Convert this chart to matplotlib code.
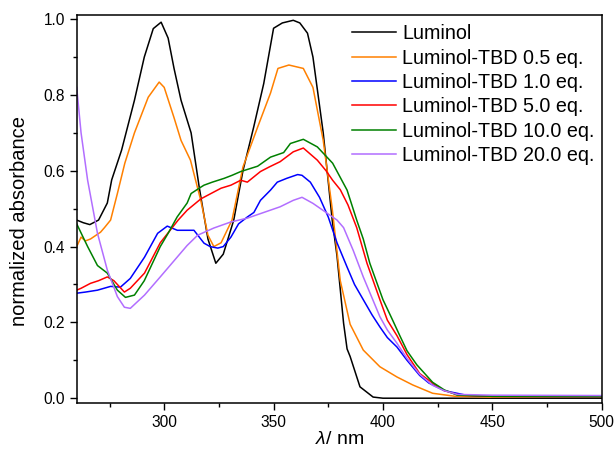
import numpy as np
import matplotlib
matplotlib.use('Agg')
import matplotlib.pyplot as plt
from matplotlib.ticker import MultipleLocator, FormatStrFormatter

plt.rcParams['font.family'] = ['Liberation Sans', 'DejaVu Sans']
plt.rcParams['mathtext.fontset'] = 'custom'
plt.rcParams['mathtext.it'] = 'Liberation Sans:italic'

# data (wavelength in nm, normalized absorbance)
wl_lum = [260, 263, 266, 270, 274, 276, 280.5, 286.4, 290.9, 295, 298.6, 301.8,
          304.5, 307.7, 312.3, 316, 320, 323.6, 327, 331.8, 336, 340.9, 345.5,
          350, 354, 359, 362, 365.5, 368, 372.7, 376.8, 379, 382, 383.6, 385,
          389.5, 395.5, 400, 420, 450, 500]
ab_lum = [0.47, 0.463, 0.458, 0.47, 0.515, 0.576, 0.654, 0.786, 0.90, 0.975,
          0.992, 0.95, 0.87, 0.786, 0.70, 0.557, 0.42, 0.356, 0.38, 0.47, 0.60,
          0.715, 0.83, 0.976, 0.99, 0.997, 0.99, 0.963, 0.90, 0.70, 0.47, 0.375,
          0.198, 0.13, 0.11, 0.03, 0.003, 0.0, 0.0, 0.0, 0.0]

wl_05 = [260, 262, 264, 266.3, 270.9, 272.7, 275.5, 278.6, 282, 286.4, 292.7,
         297.7, 300, 304.5, 307.7, 312, 316.8, 320, 322.7, 326, 331, 336,
         342.7, 348.6, 352, 357, 363.6, 368, 372.7, 376.8, 380.5, 385, 391,
         398.6, 406.4, 413.6, 422.7, 433, 450, 500]
ab_05 = [0.40, 0.425, 0.415, 0.42, 0.438, 0.45, 0.47, 0.54, 0.62, 0.70, 0.794,
         0.834, 0.82, 0.74, 0.68, 0.628, 0.52, 0.43, 0.40, 0.41, 0.47, 0.61,
         0.715, 0.805, 0.87, 0.879, 0.87, 0.82, 0.68, 0.50, 0.31, 0.195, 0.127,
         0.083, 0.056, 0.035, 0.013, 0.005, 0.003, 0.003]

wl_10 = [260, 264, 269.5, 275.5, 280, 284.5, 291, 297, 301.4, 306, 310, 313.6,
         318.2, 321, 324.5, 327, 330.5, 334, 338, 341, 344, 348.6, 351.7, 356,
         361, 363, 366.8, 371, 375, 379, 383.6, 387, 391, 395, 398.6, 402,
         406.4, 411, 416.8, 421, 428, 438, 450, 500]
ab_10 = [0.277, 0.28, 0.285, 0.295, 0.293, 0.316, 0.372, 0.435, 0.454, 0.443,
         0.443, 0.443, 0.409, 0.40, 0.396, 0.40, 0.425, 0.46, 0.478, 0.49, 0.522,
         0.549, 0.57, 0.58, 0.59, 0.588, 0.57, 0.53, 0.478, 0.41, 0.346, 0.30,
         0.26, 0.22, 0.188, 0.16, 0.135, 0.10, 0.06, 0.04, 0.02, 0.008, 0.005,
         0.004]

wl_50 = [260, 262, 266.3, 270, 274, 277, 281.8, 284.5, 291, 298.2, 306.4, 310.5,
         316.8, 322.7, 326, 330.5, 335, 338, 344, 348, 353, 359, 363.6, 370,
         374, 377, 380.5, 384, 388, 392.7, 398.6, 402, 406.4, 411, 416.8,
         422.7, 428, 435, 450, 500]
ab_50 = [0.285, 0.29, 0.303, 0.31, 0.32, 0.31, 0.28, 0.29, 0.33, 0.41, 0.47,
         0.496, 0.526, 0.544, 0.554, 0.562, 0.575, 0.57, 0.598, 0.61, 0.624,
         0.65, 0.66, 0.628, 0.60, 0.575, 0.55, 0.51, 0.45, 0.356, 0.26, 0.206,
         0.165, 0.115, 0.065, 0.04, 0.02, 0.008, 0.005, 0.004]

wl_100 = [260, 265, 269.5, 274, 278.6, 282.3, 286.4, 290.9, 298.2, 301.8, 305.9,
          310.5, 312.3, 316.8, 318.2, 322, 327.4, 331, 335, 342.7, 348.6, 354.6,
          357.7, 363.6, 370, 377, 383.6, 388, 391, 394, 400, 404.5, 407.7, 411,
          415.5, 422.7, 428, 434, 450, 500]
ab_100 = [0.46, 0.40, 0.35, 0.33, 0.285, 0.266, 0.272, 0.31, 0.40, 0.435, 0.478,
          0.515, 0.54, 0.557, 0.562, 0.57, 0.58, 0.588, 0.598, 0.612, 0.636,
          0.648, 0.672, 0.683, 0.663, 0.62, 0.549, 0.47, 0.42, 0.356, 0.26,
          0.205, 0.165, 0.125, 0.088, 0.042, 0.022, 0.008, 0.005, 0.004]

wl_200 = [260, 262, 265, 269.5, 274, 278.6, 281.8, 284.5, 291, 298.2, 305.9,
          310.5, 315.3, 322.7, 330.5, 338, 345.5, 353, 359, 363, 368, 374.5,
          379, 382, 386.4, 391, 398.6, 402, 406.4, 411, 416.8, 422.7, 428,
          434, 450, 500]
ab_200 = [0.82, 0.70, 0.575, 0.435, 0.338, 0.268, 0.24, 0.237, 0.272, 0.32,
          0.372, 0.403, 0.43, 0.449, 0.465, 0.475, 0.49, 0.505, 0.522, 0.53,
          0.514, 0.488, 0.47, 0.45, 0.39, 0.32, 0.215, 0.18, 0.145, 0.105,
          0.063, 0.034, 0.02, 0.01, 0.008, 0.007]

series = [(wl_lum, ab_lum, 'Luminol', 'black'),
          (wl_05, ab_05, 'Luminol-TBD 0.5 eq.', '#ff8000'),
          (wl_10, ab_10, 'Luminol-TBD 1.0 eq.', '#0000ff'),
          (wl_50, ab_50, 'Luminol-TBD 5.0 eq.', '#ff0000'),
          (wl_100, ab_100, 'Luminol-TBD 10.0 eq.', '#008000'),
          (wl_200, ab_200, 'Luminol-TBD 20.0 eq.', '#b26eff')]

fig = plt.figure(figsize=(6.16, 4.5), dpi=100)
ax = fig.add_axes([0.1245, 0.105, 0.8523, 0.8617])

for wl, ab, label, color in series:
    ax.plot(wl, ab, color=color, lw=1.1, label=label)

ax.set_xlim(260, 500)
ax.set_ylim(-0.012, 1.011)
ax.xaxis.set_major_locator(MultipleLocator(50))
ax.xaxis.set_minor_locator(MultipleLocator(25))
ax.yaxis.set_major_locator(MultipleLocator(0.2))
ax.yaxis.set_minor_locator(MultipleLocator(0.1))
ax.yaxis.set_major_formatter(FormatStrFormatter('%.1f'))
ax.tick_params(which='both', direction='out', top=False, right=False,
               labelsize=11.2, width=1)
ax.tick_params(which='major', length=5)
ax.tick_params(which='minor', length=3)
for sp in ax.spines.values():
    sp.set_linewidth(1.1)

ax.set_xlabel(r'$\it{\lambda}$/ nm', fontsize=14, labelpad=1)
ax.set_ylabel('normalized absorbance', fontsize=14.5)
ax.yaxis.set_label_coords(-0.09, 0.469)

ax.legend(loc='upper left', bbox_to_anchor=(0.524, 0.976), frameon=False,
          fontsize=14.2, borderpad=0, borderaxespad=0, handlelength=2.23,
          handletextpad=0.34, labelspacing=0.27)

fig.savefig('out.png', dpi=100)
